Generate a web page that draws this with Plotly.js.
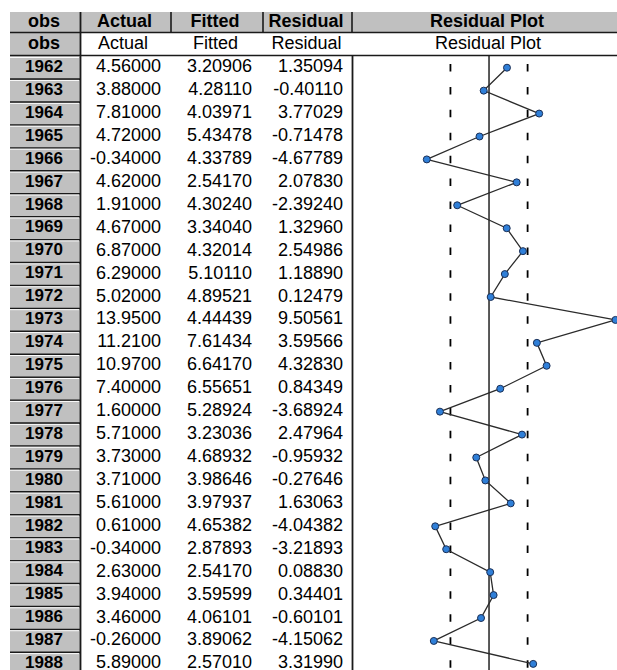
<!DOCTYPE html>
<html>
<head>
<meta charset="utf-8">
<script src="https://cdn.plot.ly/plotly-3.0.1.min.js"></script>
<style>html,body{margin:0;padding:0;background:#fff;}#chart{width:617px;height:670px;}</style>
</head>
<body>
<div id="chart"></div>
<script>
// ---- data ----
const columns = ['obs', 'Actual', 'Fitted', 'Residual', 'Residual Plot'];
const years = [1962,1963,1964,1965,1966,1967,1968,1969,1970,1971,1972,1973,1974,1975,1976,1977,1978,1979,1980,1981,1982,1983,1984,1985,1986,1987,1988];
const actual = [4.56,3.88,7.81,4.72,-0.34,4.62,1.91,4.67,6.87,6.29,5.02,13.95,11.21,10.97,7.40,1.60,5.71,3.73,3.71,5.61,0.61,-0.34,2.63,3.94,3.46,-0.26,5.89];
const fitted = [3.20906,4.28110,4.03971,5.43478,4.33789,2.54170,4.30240,3.34040,4.32014,5.10110,4.89521,4.44439,7.61434,6.64170,6.55651,5.28924,3.23036,4.68932,3.98646,3.97937,4.65382,2.87893,2.54170,3.59599,4.06101,3.89062,2.57010];
const residual = [1.35094,-0.40110,3.77029,-0.71478,-4.67789,2.07830,-2.39240,1.32960,2.54986,1.18890,0.12479,9.50561,3.59566,4.32830,0.84349,-3.68924,2.47964,-0.95932,-0.27646,1.63063,-4.04382,-3.21893,0.08830,0.34401,-0.60101,-4.15062,3.31990];
const stdErr = 2.9;   // dashed bands at +/- 1 S.E.

// ---- geometry / style ----
const W = 617, H = 670;
const Y0 = 67.7, P = 22.93;           // row centre of first data row, row pitch (px)
const yi = pix => (pix - Y0) / P;     // pixel -> row index
const GRAY = '#c0c0c0', DARK = '#1a1a1a';
const FONT = 'Liberation Sans, Arial, sans-serif';
const FS = 18;

const rows = years.map((_, i) => i);
const fmt = v => v.toFixed(Math.abs(v) >= 10 ? 4 : 5);

const colCenters = [44, 124.5, 215, 306, 487];
const colCenters2 = [44, 123, 215.5, 306.5, 488];
const numRight = [161, 252, 343];

const traces = [];
// header row 1 (bold, gray)
traces.push({
  type: 'scatter', mode: 'text', xaxis: 'x', yaxis: 'y',
  x: colCenters, y: columns.map(() => yi(22.5)),
  text: columns.map(c => '<b>' + c + '</b>'),
  textposition: 'middle center',
  textfont: {family: FONT, size: FS, color: '#000'}, hoverinfo: 'skip'
});
// header row 2
traces.push({
  type: 'scatter', mode: 'text', xaxis: 'x', yaxis: 'y',
  x: colCenters2, y: columns.map(() => yi(44.5)),
  text: columns.map((c, k) => k === 0 ? '<b>' + c + '</b>' : c),
  textposition: 'middle center',
  textfont: {family: FONT, size: FS, color: '#000'}, hoverinfo: 'skip'
});
// obs years
traces.push({
  type: 'scatter', mode: 'text', xaxis: 'x', yaxis: 'y',
  x: years.map(() => colCenters[0]), y: rows,
  text: years.map(y => '<b>' + y + '</b>'),
  textposition: 'middle center',
  textfont: {family: FONT, size: 17, color: '#000'}, hoverinfo: 'skip'
});
// numeric columns
[actual, fitted, residual].forEach((arr, k) => {
  traces.push({
    type: 'scatter', mode: 'text', xaxis: 'x', yaxis: 'y',
    x: arr.map(() => numRight[k]), y: rows,
    text: arr.map(fmt),
    textposition: 'middle left',
    textfont: {family: FONT, size: FS, color: '#000'}, hoverinfo: 'skip'
  });
});
// residual plot
traces.push({
  type: 'scatter', mode: 'lines+markers', xaxis: 'x2', yaxis: 'y',
  x: residual, y: rows,
  line: {color: '#2b2b2b', width: 1.3},
  marker: {symbol: 'circle', size: 7, color: '#2f7fd8', line: {color: '#1b2f55', width: 1}},
  cliponaxis: false, hoverinfo: 'skip'
});

// ---- shapes: table chrome ----
const shapes = [];
const lineShape = (x0, y0, x1, y1, w, color, ref) => ({
  type: 'line', xref: ref || 'x', yref: 'y', x0, y0: yi(y0), x1, y1: yi(y1),
  line: {color: color || DARK, width: w}, layer: 'above'
});
// header row 1 gray band
shapes.push({type: 'rect', xref: 'x', yref: 'y', x0: 10, x1: W, y0: yi(12), y1: yi(32), fillcolor: GRAY, line: {width: 0}, layer: 'below'});
// header row 2 obs gray
shapes.push({type: 'rect', xref: 'x', yref: 'y', x0: 10, x1: 80, y0: yi(33), y1: yi(55), fillcolor: GRAY, line: {width: 0}, layer: 'below'});
// obs cells per year
years.forEach((_, i) => {
  shapes.push({type: 'rect', xref: 'x', yref: 'y', x0: 10, x1: 80, y0: i - 0.5, y1: i + 0.5, fillcolor: GRAY, line: {width: 0}, layer: 'below'});
  shapes.push({type: 'line', xref: 'x', yref: 'y', x0: 10, x1: 80, y0: i + 0.5, y1: i + 0.5, line: {color: DARK, width: 1.6}, layer: 'above'});
  shapes.push({type: 'line', xref: 'x', yref: 'y', x0: 10, x1: 79, y0: i - 0.5 + 1.2 / P, y1: i - 0.5 + 1.2 / P, line: {color: '#ffffff', width: 1}, layer: 'above'});
});
// header separators
shapes.push(lineShape(10, 32.5, W, 32.5, 1.6));
shapes.push(lineShape(10, 55.5, W, 55.5, 1.6));
[171, 263, 352].forEach(x => shapes.push(lineShape(x, 12, x, 32, 1.6)));
// obs divider
shapes.push(lineShape(80.5, 12, 80.5, H, 1.8));
// plot region border
shapes.push(lineShape(352.5, 55.5, 352.5, H, 1.8));
// zero line
shapes.push({type: 'line', xref: 'x2', yref: 'y', x0: 0, x1: 0, y0: yi(55.5), y1: yi(H), line: {color: '#000', width: 1.3}, layer: 'below'});
// +/- S.E. dashed lines, dashes centred on each row
[-stdErr, stdErr].forEach(v => shapes.push({
  type: 'line', xref: 'x2', yref: 'y', x0: v, x1: v, y0: yi(Y0 - 3.75), y1: yi(H + 20),
  line: {color: '#000', width: 1.8, dash: '7.5px,15.43px'}, layer: 'below'
}));

const layout = {
  width: W, height: H,
  margin: {l: 0, r: 0, t: 0, b: 0, pad: 0},
  paper_bgcolor: '#ffffff', plot_bgcolor: 'rgba(0,0,0,0)',
  showlegend: false,
  xaxis: {domain: [0, 1], range: [0, W], visible: false, fixedrange: true},
  xaxis2: {domain: [352 / W, 1], range: [-10.3, 9.62], visible: false, anchor: 'y', fixedrange: true},
  yaxis: {domain: [0, 1], range: [yi(H), yi(0)], visible: false, fixedrange: true},
  shapes: shapes
};

Plotly.newPlot('chart', traces, layout, {staticPlot: true, displayModeBar: false});
</script>
</body>
</html>
